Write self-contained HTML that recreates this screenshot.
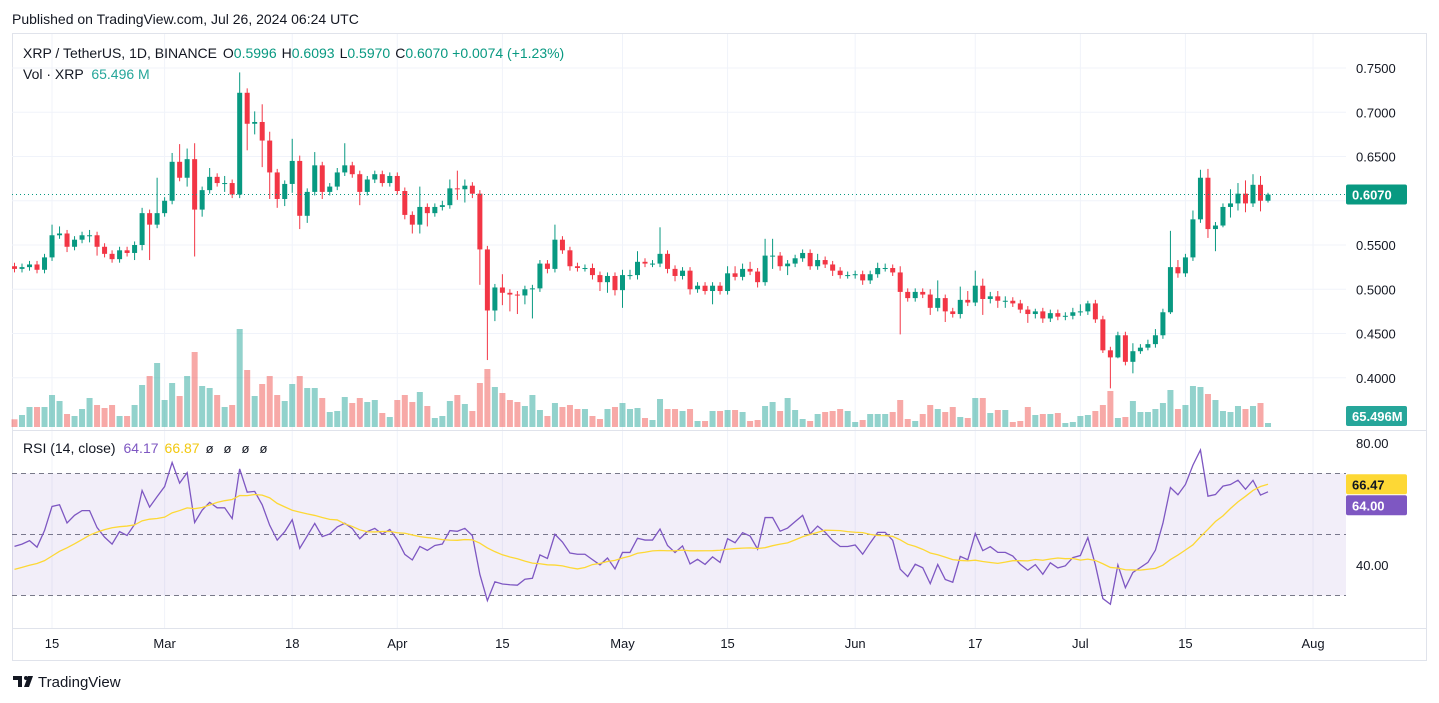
<!DOCTYPE html>
<html><head><meta charset="utf-8"><style>
html,body{margin:0;padding:0;background:#fff;}
svg{display:block;font-family:"Liberation Sans",sans-serif;}
</style></head><body>
<svg id="chart" width="1439" height="703" viewBox="0 0 1439 703" xmlns="http://www.w3.org/2000/svg">
<rect x="0" y="0" width="1439" height="703" fill="#fff"/>
<text x="12" y="24" font-size="14" fill="#131722">Published on TradingView.com, Jul 26, 2024 06:24 UTC</text>
<rect x="12.5" y="33.5" width="1414" height="627" fill="none" stroke="#e0e3eb"/>
<g id="grid"></g>
<rect id="rsiBand" x="12" y="473" width="1334" height="122" fill="rgba(126,87,194,0.1)"/>
<g id="vol"></g>
<g id="candles"></g>
<g id="rsi"></g>
<g id="axes"></g>
<text x="23" y="58" font-size="14" fill="#131722">XRP / TetherUS, 1D, BINANCE <tspan dx="2">O</tspan><tspan fill="#089981">0.5996</tspan><tspan dx="5">H</tspan><tspan fill="#089981">0.6093</tspan><tspan dx="5">L</tspan><tspan fill="#089981">0.5970</tspan><tspan dx="5">C</tspan><tspan fill="#089981">0.6070</tspan><tspan dx="4" fill="#089981">+0.0074 (+1.23%)</tspan></text>
<text x="23" y="79" font-size="14" fill="#131722">Vol · XRP <tspan dx="4" fill="#26a69a">65.496 M</tspan></text>
<text x="23" y="453" font-size="14" fill="#131722">RSI (14, close) <tspan dx="4" fill="#7e57c2">64.17</tspan><tspan dx="6" fill="#f2c80f">66.87</tspan><tspan dx="6" font-size="13">ø</tspan><tspan dx="10" font-size="13">ø</tspan><tspan dx="10" font-size="13">ø</tspan><tspan dx="10" font-size="13">ø</tspan></text>
<g>
<path d="M13 676h9v11h-4v-7h-5z M24 687l4-11h5l-4 11z" fill="#131722"/>
<circle cx="26" cy="678" r="2" fill="#131722"/>
<text x="38" y="687" font-size="15" fill="#131722">TradingView</text>
</g>
</svg>
<script>
const closes=[.523,.525,.528,.522,.536,.561,.563,.548,.556,.561,
.561,.548,.540,.534,.544,.541,.550,.586,.573,.586,
.600,.644,.626,.647,.590,.612,.627,.620,.620,.607,
.722,.687,.689,.668,.632,.602,.619,.645,.583,.610,
.640,.610,.616,.632,.640,.630,.610,.624,.630,.620,.628,
.611,.584,.573,.593,.586,.593,.595,.614,.613,.617,
.608,.545,.476,.502,.496,.494,.493,.500,.501,.529,
.523,.556,.544,.526,.524,.524,.516,.508,.515,.499,
.516,.516,.531,.529,.529,.540,.523,.515,.521,.500,
.504,.498,.504,.498,.518,.514,.523,.520,.508,.538,
.538,.526,.529,.535,.541,.526,.533,.528,.521,.516,.516,
.517,.510,.517,.524,.524,.519,.497,.490,.497,.494,
.479,.490,.475,.472,.488,.485,.504,.489,.492,.487,
.487,.484,.477,.472,.475,.467,.473,.469,.470,.474,
.475,.484,.466,.431,.423,.448,.418,.430,.434,.438,
.448,.474,.525,.518,.536,.579,.626,.568,.572,.593,
.597,.608,.597,.618,.600,.607];
const firstOpen=.526;
// assumed prior average gain/loss before the visible range (RSI seed)
const seedAvgGain=0.0055, seedAvgLoss=0.0062;
const upWick=[4,4,4,4,4,12,8,4,4,4,6,4,4,4,4,4,4,6,4,40,
4,10,20,12,18,4,10,4,8,4,23,5,12,20,10,4,4,25,6,4,
15,4,4,5,25,4,4,4,4,4,4,4,4,4,23,4,4,5,10,20,
7,4,4,4,4,15,4,4,4,4,4,4,17,4,4,4,4,5,4,4,
4,6,6,12,4,4,30,4,4,4,4,4,4,4,4,8,8,6,8,4,
19,19,4,4,4,4,4,7,4,4,4,4,4,4,4,6,5,4,7,4,
4,4,6,20,4,4,15,10,17,8,5,6,5,4,4,4,3,4,4,4,
4,5,8,3,4,4,4,4,4,9,4,5,7,4,41,8,4,10,9,10,
4,4,16,12,15,12,10,2];
const downWick=[4,4,4,4,4,4,4,6,4,4,8,10,4,4,4,4,8,6,40,4,
4,4,4,10,53,8,4,4,10,4,4,30,12,30,30,10,8,10,15,8,
4,8,4,4,4,4,15,4,4,4,4,4,5,10,10,15,4,4,4,12,
15,5,40,56,12,14,19,21,10,33,4,5,4,4,5,4,4,5,10,12,
6,20,5,5,4,4,4,5,6,4,6,4,4,15,4,4,4,4,4,6,
4,15,5,10,4,4,4,4,4,6,4,4,4,5,4,4,4,4,48,4,
4,4,8,4,12,4,5,4,4,18,5,8,8,4,4,10,5,5,4,4,
4,4,4,4,4,3,35,1,4,13,3,3,4,4,2,5,4,4,4,10,
25,2,12,8,10,4,12,2];
// volume in units of ~16.4M
const volumes=[7.7,12,20,20,20,32,26,13,11,18,29,22,19,22,11,11,22,42,51,64,
27,44,31,51,75,41,39,32,20,22,98,57,31,43,51,32,26,43,51,39,
39,29,15,16,30,24,29,25,27,14,10,27,32,25,35,21,9,11,26,32,
23,16,44,58,40,34,27,25,21,32,17,11,24,20,22,18,18,11,8,18,
20,24,18,19,9,7,28,18,18,16,18,6,6,16,16,17,17,15,6,7,
21,25,16,29,17,8,6,13,15,16,18,16,5,7,13,13,13,15,27,8,
6,13,22,18,15,20,10,9,29,29,14,17,17,5,6,20,12,13,13,14,
4,5,11,12,16,22,36,9,10,26,15,15,18,24,37,18,22,41,40,33,
27,16,15,21,18,21,24,4];
const priceTicks=[0.75,0.70,0.65,0.60,0.55,0.50,0.45,0.40];
const priceTickLabels=["0.7500","0.7000","0.6500","0.6000","0.5500","0.5000","0.4500","0.4000"];
const rsiTicks=[80,60,40];
const rsiTickLabels=["80.00","60.00","40.00"];
const dateIdx=[5,20,37,51,65,81,95,112,128,142,156,173];
const dateLabels=["15","Mar","18","Apr","15","May","15","Jun","17","Jul","15","Aug"];

const NS="http://www.w3.org/2000/svg";
const X=i=>14.5+i*7.506;
const Y=p=>68+(0.75-p)*885;
const VY=v=>427-v;
const RY=r=>443+(80-r)*3.05;
function mk(tag,attrs,parent){const e=document.createElementNS(NS,tag);for(const k in attrs)e.setAttribute(k,attrs[k]);parent.appendChild(e);return e;}
const G=id=>document.getElementById(id);

// grid
const grid=G('grid');
priceTicks.forEach(p=>{const l=mk('line',{x1:12,x2:1346,y1:Y(p),y2:Y(p),stroke:'#f0f3fa'},grid);

});
dateIdx.forEach(i=>{const l=mk('line',{x1:X(i),x2:X(i),y1:34,y2:628,stroke:'#f0f3fa'},grid);

});
const sep=mk('line',{x1:12,x2:1426,y1:430.5,y2:430.5,stroke:'#e0e3eb'},grid);


const sep2=mk('line',{x1:12,x2:1426,y1:628.5,y2:628.5,stroke:'#e0e3eb'},grid);


[70,50,30].forEach(r=>{const l=mk('line',{x1:12,x2:1346,y1:RY(r),y2:RY(r),stroke:'#787b86','stroke-dasharray':'5 4','stroke-width':1},grid);

});
G('rsiBand').setAttribute('y',RY(70));G('rsiBand').setAttribute('height',RY(30)-RY(70));

// candles + volume
const cg=G('candles'),vg=G('vol');
closes.forEach((c,i)=>{
 const o=i?closes[i-1]:firstOpen;const up=c>=o;
 const hi=Math.max(o,c)+upWick[i]/1000, lo=Math.min(o,c)-downWick[i]/1000;
 const col=up?'#089981':'#f23645';
 const w=mk('line',{x1:X(i),x2:X(i),y1:Y(hi),y2:Y(lo),stroke:col,'stroke-width':1},cg);
 
 
 const t=Math.min(Y(o),Y(c)),h=Math.max(1,Math.abs(Y(o)-Y(c)));
 const b=mk('rect',{x:X(i)-2.5,y:t,width:5,height:h,fill:col},cg);
 
 
 const v=mk('rect',{x:X(i)-3,y:VY(volumes[i]),width:6,height:volumes[i],fill:up?'rgba(38,166,154,0.5)':'rgba(239,83,80,0.5)'},vg);
 
 
});
const last=closes[closes.length-1];
const pl=mk('line',{x1:12,x2:1346,y1:Y(last),y2:Y(last),stroke:'#089981','stroke-dasharray':'1 3'},cg);



// RSI (Wilder), seeded
const rsi=[];let ag=seedAvgGain,al=seedAvgLoss;
for(let i=0;i<closes.length;i++){
 const prev=i?closes[i-1]:firstOpen;
 const d=closes[i]-prev,g=Math.max(d,0),l=Math.max(-d,0);
 ag=(ag*13+g)/14;al=(al*13+l)/14;
 rsi.push(al===0?100:100-100/(1+ag/al));
}
const ma=rsi.map((r,i)=>{const s=rsi.slice(Math.max(0,i-13),i+1);const pad=14-s.length;return (s.reduce((a,b)=>a+b,0)+pad*38)/14;});
const rg=G('rsi');
const rl=mk('polyline',{points:rsi.map((r,i)=>X(i)+','+RY(r)).join(' '),fill:'none',stroke:'#7e57c2','stroke-width':1.3},rg);


const ml=mk('polyline',{points:ma.map((r,i)=>X(i)+','+RY(r)).join(' '),fill:'none',stroke:'#fdd835','stroke-width':1.3},rg);



// axes
const ax=G('axes');
const rLast=rsi[rsi.length-1], mLast=ma[ma.length-1];
let yMa=RY(mLast), yR=RY(rLast);
if(Math.abs(yR-yMa)<21){ if(rLast<=mLast) yR=yMa+21; else yMa=yR+21; }
priceTicks.forEach((p,k)=>{if(Math.abs(Y(p)-Y(last))<14)return;const t=mk('text',{x:1356,y:Y(p)+5,'font-size':13,fill:'#131722'},ax);t.textContent=priceTickLabels[k];

});
rsiTicks.forEach((r,k)=>{const yy=RY(r);if(Math.abs(yy-yMa)<14||Math.abs(yy-yR)<14)return;const t=mk('text',{x:1356,y:yy+5,'font-size':13,fill:'#131722'},ax);t.textContent=rsiTickLabels[k];

});
dateIdx.forEach((i,k)=>{const t=mk('text',{x:X(i),y:648,'font-size':13,fill:'#131722','text-anchor':'middle'},ax);t.textContent=dateLabels[k];

});
function badge(name,y,bg,fg,txt){
 const g=mk('g',{},ax);
 
 
 mk('rect',{x:1346,y:y-10,width:61,height:20,rx:2,fill:bg},g);
 const t=mk('text',{x:1352,y:y+5,'font-size':13,fill:fg,'font-weight':'bold'},g);t.textContent=txt;
}
badge('last-price-badge',Y(last),'#089981','#fff',last.toFixed(4));
badge('volume-badge',416,'#26a69a','#fff','65.496M');
badge('rsi-ma-badge',yMa,'#fdd835','#131722',mLast.toFixed(2));
badge('rsi-badge',yR,'#7e57c2','#fff',rLast.toFixed(2));
</script>
</body></html>
